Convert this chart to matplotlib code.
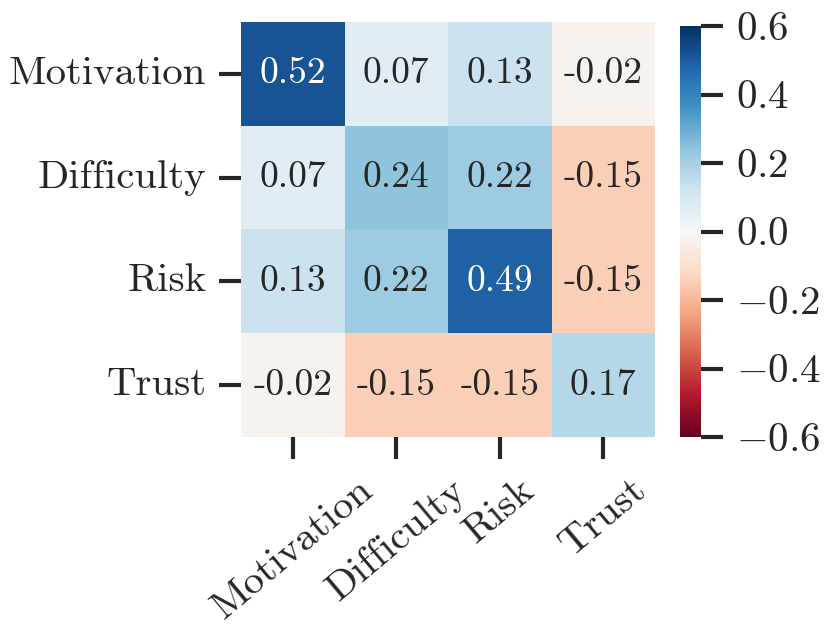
import matplotlib
matplotlib.use("Agg")
import matplotlib.pyplot as plt
import numpy as np
import seaborn as sns

labels = ["Motivation", "Difficulty", "Risk", "Trust"]
corr = [
    [0.52, 0.07, 0.13, -0.02],
    [0.07, 0.24, 0.22, -0.15],
    [0.13, 0.22, 0.49, -0.15],
    [-0.02, -0.15, -0.15, 0.17],
]
cbar_ticks = [-0.6, -0.4, -0.2, 0.0, 0.2, 0.4, 0.6]

sns.set_style("ticks")
plt.rcParams['font.family'] = 'serif'
plt.rcParams['font.serif'] = ['cmr10']
plt.rcParams['mathtext.fontset'] = 'cm'
plt.rcParams['axes.formatter.use_mathtext'] = True
plt.rcParams['text.color'] = '#262626'
plt.rcParams['xtick.color'] = '#262626'
plt.rcParams['ytick.color'] = '#262626'

fig = plt.figure(figsize=(8.3, 6.25), dpi=100)
ax = fig.add_axes([0.2904, 0.3008, 0.4988, 0.664])
cax = fig.add_axes([0.8193, 0.3008, 0.0253, 0.6576])

sns.heatmap(np.array(corr), ax=ax, cbar_ax=cax, cmap="RdBu", vmin=-0.6, vmax=0.6,
            annot=True, fmt=".2f", annot_kws={"fontsize": 27},
            xticklabels=labels, yticklabels=labels,
            cbar_kws={"ticks": cbar_ticks})

ax.tick_params(axis='both', length=16, width=3, pad=9, labelsize=29.5)
ax.set_xticklabels(labels, rotation=40, ha='center')
ax.set_yticklabels(labels, rotation=0)
cax.tick_params(length=16, width=3, pad=9, labelsize=29.5)

fig.savefig("out.png", dpi=100)
